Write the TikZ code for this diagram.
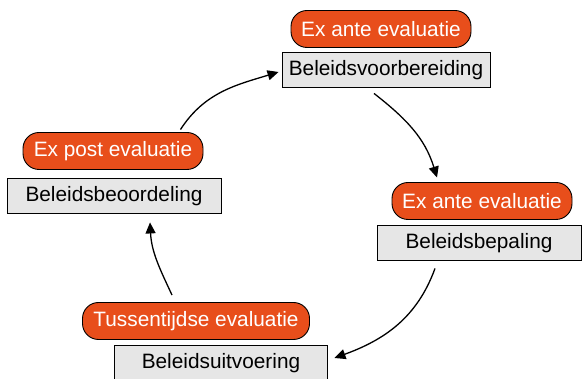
\documentclass[tikz,border=0pt]{standalone}
\usepackage{fontspec}
\setmainfont{Liberation Sans}
\usetikzlibrary{arrows.meta}
\definecolor{evalorange}{HTML}{E84E1B}
\definecolor{boxgrey}{HTML}{E6E6E6}
\begin{document}
\begin{tikzpicture}[x=1pt,y=1pt,
  evalbox/.style={draw=black,line width=0.9pt,fill=evalorange,text=white,rounded corners=16pt,
    minimum height=37pt,inner sep=0pt,font=\fontsize{20.8}{24}\selectfont},
  phasebox/.style={draw=black,line width=0.9pt,fill=boxgrey,text=black,
    minimum height=35pt,inner sep=0pt,font=\fontsize{20.8}{24}\selectfont},
  arr/.style={-{Triangle[length=11pt,width=10pt]},line width=1.3pt}]
\useasboundingbox (0,0) rectangle (583,379);
\node[evalbox,minimum width=180pt] (eo1) at (381,350) {Ex ante evaluatie};
\node[phasebox,minimum width=208pt] (bv) at (386,309) {Beleidsvoorbereiding};
\node[evalbox,minimum width=180pt] (eo2) at (482,178) {Ex ante evaluatie};
\node[phasebox,minimum width=204pt] (bp) at (479,136) {Beleidsbepaling};
\node[evalbox,minimum width=227pt] (eo3) at (196,58) {Tussentijdse evaluatie};
\node[phasebox,minimum width=213pt] (bu) at (221,16) {Beleidsuitvoering};
\node[evalbox,minimum width=180pt] (eo4) at (113,228) {Ex post evaluatie};
\node[phasebox,minimum width=214pt] (bb) at (114,183) {Beleidsbeoordeling};
\coordinate (a1s) at ([xshift=-23pt,yshift=2.5pt]eo4.north east);
\coordinate (a2s) at ([xshift=-12pt,yshift=-5.5pt]bv.south);
\coordinate (a3s) at ([xshift=-44pt,yshift=-7.5pt]bp.south);
\coordinate (a4s) at ([xshift=-24pt,yshift=7pt]eo3.north);
\draw[arr] (a1s) to[out=57,in=197] ([xshift=-3pt,yshift=-2pt]bv.west);
\draw[arr] (a2s) to[out=-38,in=107] ([xshift=-45pt,yshift=4.5pt]eo2.north);
\draw[arr] (a3s) to[out=-110,in=20] ([xshift=6.5pt,yshift=5pt]bu.east);
\draw[arr] (a4s) to[out=115,in=-87] ([xshift=36pt,yshift=-8.5pt]bb.south);
\end{tikzpicture}
\end{document}
